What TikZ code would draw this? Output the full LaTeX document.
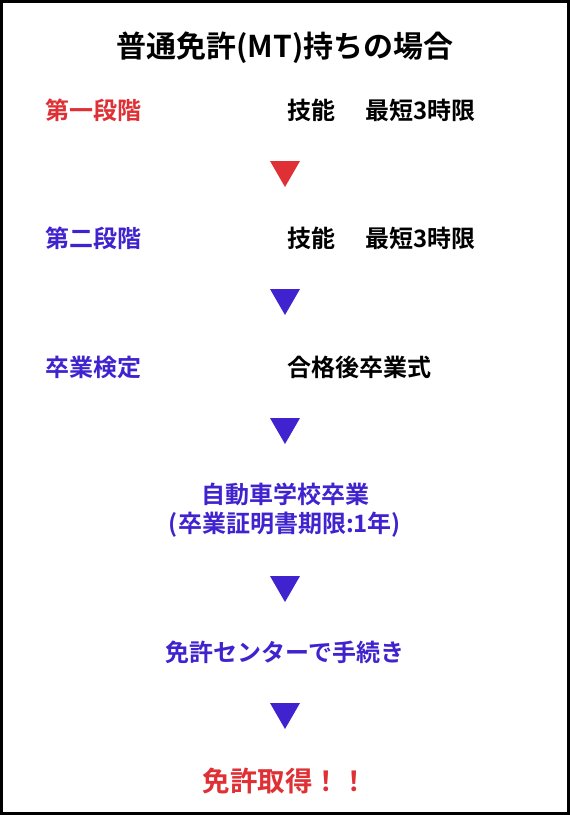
\documentclass[tikz,border=0pt]{standalone}
\usepackage{fontspec}
\setmainfont{Noto Sans CJK JP}[BoldFont={Noto Sans CJK JP Bold}]
\definecolor{kred}{HTML}{DE3035}
\definecolor{kblue}{HTML}{4023CF}
\tikzset{
  txt/.style={inner sep=0pt, font=\bfseries\fontsize{24pt}{28pt}\selectfont},
  lbl/.style={txt, anchor=west},
  ctr/.style={txt, anchor=center, align=center},
  tri/.style={fill=#1},
}
\newcommand{\downtri}[3]{\fill[tri=#1] (#2-15,#3) -- (#2+15,#3) -- (#2,#3+26) -- cycle;}
\begin{document}
\begin{tikzpicture}[x=1pt,y=-1pt]
\useasboundingbox (0,0) rectangle (570,815);
\fill[white] (0,0) rectangle (570,815);
\draw[line width=3.2pt] (1.6,1.6) rectangle (568.4,813.4);

\node[ctr, font=\bfseries\fontsize{30pt}{34pt}\selectfont] (title) at (285,48) {普通免許(MT)持ちの場合};

\node[lbl, text=kred] (s1) at (45,110.5) {第一段階};
\node[lbl] (s1a) at (287,110.5) {技能};
\node[lbl] (s1b) at (365,110.5) {最短3時限};
\downtri{kred}{285}{161}

\node[lbl, text=kblue] (s2) at (45,238) {第二段階};
\node[lbl] (s2a) at (287,238) {技能};
\node[lbl] (s2b) at (365,238) {最短3時限};
\downtri{kblue}{285}{289}

\node[lbl, text=kblue] (s3) at (45,367) {卒業検定};
\node[lbl] (s3a) at (287,367) {合格後卒業式};
\downtri{kblue}{285}{418}

\node[ctr, text=kblue] (grad1) at (285,494) {自動車学校卒業};
\node[ctr, text=kblue] (grad2) at (285,525) {(卒業証明書期限:1年)};
\downtri{kblue}{285}{576}

\node[ctr, text=kblue] (center) at (285,652) {免許センターで手続き};
\downtri{kblue}{285}{703}

\node[ctr, text=kred, font=\bfseries\fontsize{27.5pt}{31pt}\selectfont] (get) at (285,781) {免許取得！！};
\end{tikzpicture}
\end{document}
